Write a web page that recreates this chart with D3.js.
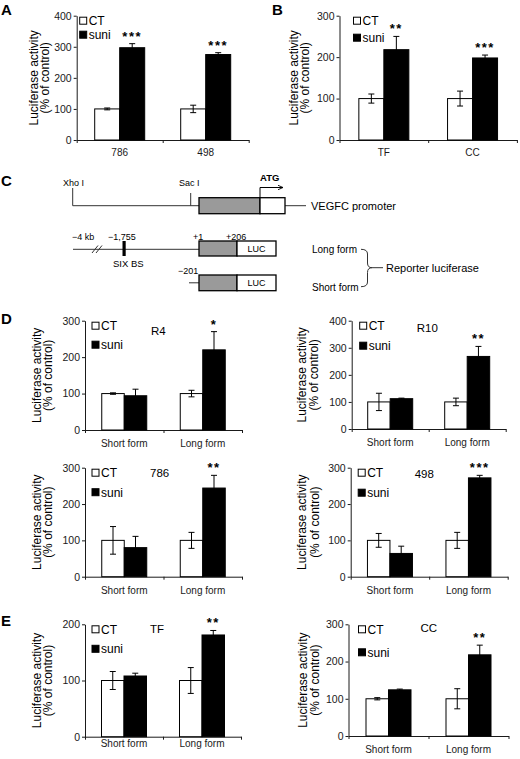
<!DOCTYPE html>
<html>
<head>
<meta charset="utf-8">
<script src="https://cdn.jsdelivr.net/npm/d3@7"></script>
<style>
body { margin: 0; background: #fff; }
svg { display: block; font-family: "Liberation Sans", Arial, sans-serif; }
</style>
</head>
<body>
<div id="fig"></div>
<script>
const series = ["CT", "suni"];
const forms = ["Short form", "Long form"];

// panel A
const cellsA = ["786", "498"];
const ctA = [100, 100];
const ctErrA = [3, 12];
const suniA = [297, 275];
const suniErrA = [13, 6];
const starsA = ["***", "***"];

// panel B
const cellsB = ["TF", "CC"];
const ctB = [100, 100];
const ctErrB = [11, 18];
const suniB = [218, 198];
const suniErrB = [32, 7];
const starsB = ["**", "***"];

// panel D
const ctR4 = [100, 100], ctErrR4 = [2, 9], suniR4 = [94, 220], suniErrR4 = [18, 50];
const ctR10 = [100, 100], ctErrR10 = [32, 14], suniR10 = [112, 268], suniErrR10 = [2, 37];
const ct786 = [100, 100], ctErr786 = [38, 22], suni786 = [80, 244], suniErr786 = [31, 35];
const ct498 = [100, 100], ctErr498 = [19, 22], suni498 = [64, 272], suniErr498 = [20, 7];

// panel E
const ctTF = [100, 100], ctErrTF = [16, 23], suniTF = [108, 181], suniErrTF = [5, 8];
const ctCC = [100, 100], ctErrCC = [3, 27], suniCC = [124, 218], suniErrCC = [2, 26];

const starsR4 = ["", "*"];
const starsR10 = ["", "**"];
const stars786 = ["", "**"];
const stars498 = ["", "***"];
const starsTF = ["", "**"];
const starsCC = ["", "**"];

const ticks200 = [0, 100, 200];
const ticks300 = [0, 100, 200, 300];
const ticks400 = [0, 100, 200, 300, 400];

const chart = {};
chart.width = 520;
chart.height = 759;
chart.ink = "#1a1a1a";

const svg = d3.select("#fig").append("svg")
    .attr("width", chart.width)
    .attr("height", chart.height);

/**
 * Grouped bar panel with CT / suni bars and error bars.
 */
chart.bars = function(p) {
    const g = svg.append("g");
    const n = p.cats.length;
    const right = p.left + p.band * n;

    const y = d3.scaleLinear().domain([0, d3.max(p.ticks)]).range([p.bottom, p.top]);
    const x0 = d3.scaleBand().domain(p.cats).range([p.left, right]);
    const x1 = d3.scaleBand().domain(series).range([-p.barW, p.barW]);
    const xEdge = d3.scaleLinear().domain([0, n]).range([p.left, right]);

    const rows = p.cats.map((c, i) => ({
        cat: c,
        star: p.stars[i],
        vals: [
            { s: "CT", v: p.ct[i], e: p.ctErr[i] },
            { s: "suni", v: p.suni[i], e: p.suniErr[i] }
        ]
    }));
    const flat = rows.flatMap(r => r.vals.map(d => Object.assign({ cat: r.cat }, d)));
    const cx = d => x0(d.cat) + x0.bandwidth() / 2 + x1(d.s);

    // axes
    g.append("g")
        .attr("transform", `translate(${p.left},0)`)
        .call(d3.axisLeft(y).tickValues(p.ticks).tickSize(3).tickSizeOuter(0).tickPadding(2))
        .call(a => a.selectAll("path,line").attr("stroke", chart.ink))
        .call(a => a.selectAll("text").attr("fill", chart.ink)
            .style("font-size", "10.5px").style("font-family", "inherit"));

    g.append("g")
        .attr("transform", `translate(0,${p.bottom})`)
        .call(d3.axisBottom(xEdge).tickValues(d3.range(n + 1)).tickSize(3).tickSizeOuter(0).tickFormat(""))
        .call(a => a.selectAll("path,line").attr("stroke", chart.ink));

    g.append("g")
        .attr("transform", `translate(0,${p.bottom})`)
        .call(d3.axisBottom(x0).tickSize(0).tickPadding(p.catDy))
        .call(a => a.select(".domain").remove())
        .call(a => a.selectAll("text").attr("fill", chart.ink)
            .style("font-size", "10px").style("font-family", "inherit"));

    // bars
    g.selectAll(".bar")
        .data(flat)
        .enter()
        .append("rect")
            .attr("x", d => cx(d))
            .attr("y", d => y(d.v))
            .attr("width", x1.bandwidth())
            .attr("height", d => p.bottom - y(d.v))
            .attr("fill", d => d.s === "CT" ? "#fff" : "#000")
            .attr("stroke", "#000")
            .attr("stroke-width", 1);

    // error bars
    const eb = g.selectAll(".err").data(flat).enter().append("g")
        .attr("stroke", "#000").attr("stroke-width", 1);
    const mid = d => cx(d) + x1.bandwidth() / 2;
    eb.append("line")
        .attr("x1", mid).attr("x2", mid)
        .attr("y1", d => y(d.v - d.e)).attr("y2", d => y(d.v + d.e));
    eb.append("line")
        .attr("x1", d => mid(d) - 3).attr("x2", d => mid(d) + 3)
        .attr("y1", d => y(d.v + d.e)).attr("y2", d => y(d.v + d.e));
    eb.append("line")
        .attr("x1", d => mid(d) - 3).attr("x2", d => mid(d) + 3)
        .attr("y1", d => y(d.v - d.e)).attr("y2", d => y(d.v - d.e));

    // significance stars
    g.selectAll(".star")
        .data(rows.filter(r => r.star))
        .enter()
        .append("text")
            .attr("x", r => mid(Object.assign({ cat: r.cat }, r.vals[1])))
            .attr("y", r => y(r.vals[1].v + r.vals[1].e) - 3)
            .attr("text-anchor", "middle")
            .style("font-size", "13px")
            .style("font-weight", "bold")
            .style("letter-spacing", "1.5px")
            .text(r => r.star);

    // legend
    const lg = g.append("g").attr("transform", `translate(${p.left + p.legendDx},${p.top + 5})`);
    series.forEach((s, i) => {
        const row = lg.append("g").attr("transform", `translate(0,${i * p.legendGap})`);
        row.append("rect")
            .attr("x", 0).attr("y", -3.5).attr("width", 7).attr("height", 7)
            .attr("fill", s === "CT" ? "#fff" : "#000")
            .attr("stroke", "#000").attr("stroke-width", 1);
        row.append("text")
            .attr("x", 9).attr("y", 0).attr("dy", "0.36em")
            .style("font-size", "12px")
            .text(s);
    });

    if (p.title) {
        g.append("text")
            .attr("x", p.left + p.titleDx)
            .attr("y", p.top + p.titleDy)
            .style("font-size", "11.5px")
            .text(p.title);
    }

    // y label
    const yc = (p.top + p.bottom) / 2;
    ["Luciferase activity", "(% of control)"].forEach((t, i) => {
        g.append("text")
            .attr("transform", `translate(${p.left - p.labelDx[i]},${yc}) rotate(-90)`)
            .attr("text-anchor", "middle")
            .attr("dy", "0.35em")
            .style("font-size", "12px")
            .text(t);
    });
};

// panel letters
[["A", 1, 15], ["B", 272, 15], ["C", 1, 186], ["D", 1, 324], ["E", 1, 626]].forEach(([t, x, yy]) => {
    svg.append("text").attr("x", x).attr("y", yy)
        .style("font-size", "15px").style("font-weight", "bold").text(t);
});

chart.bars({ cats: cellsA, ct: ctA, ctErr: ctErrA, suni: suniA, suniErr: suniErrA, stars: starsA,
    ticks: ticks400, left: 76.7, band: 86, top: 15.7, bottom: 140, barW: 25,
    legendDx: 3, legendGap: 14, labelDx: [43, 32], catDy: 9 });
chart.bars({ cats: cellsB, ct: ctB, ctErr: ctErrB, suni: suniB, suniErr: suniErrB, stars: starsB,
    ticks: ticks300, left: 339.5, band: 88.7, top: 15.7, bottom: 140, barW: 25,
    legendDx: 14, legendGap: 17, labelDx: [46, 35], catDy: 9 });

chart.bars({ cats: forms, ct: ctR4, ctErr: ctErrR4, suni: suniR4, suniErr: suniErrR4, stars: starsR4,
    ticks: ticks300, left: 85, band: 78.5, top: 320.7, bottom: 430, barW: 22.5,
    legendDx: 7, legendGap: 19, labelDx: [48, 37], catDy: 10, title: "R4", titleDx: 66, titleDy: 14 });
chart.bars({ cats: forms, ct: ctR10, ctErr: ctErrR10, suni: suniR10, suniErr: suniErrR10, stars: starsR10,
    ticks: ticks400, left: 351.7, band: 77, top: 320.7, bottom: 429, barW: 22.5,
    legendDx: 8, legendGap: 20, labelDx: [50, 38], catDy: 10, title: "R10", titleDx: 65, titleDy: 11 });
chart.bars({ cats: forms, ct: ct786, ctErr: ctErr786, suni: suni786, suniErr: suniErr786, stars: stars786,
    ticks: ticks300, left: 85, band: 78.5, top: 467.7, bottom: 576.7, barW: 22.5,
    legendDx: 7, legendGap: 19.5, labelDx: [48, 37], catDy: 10, title: "786", titleDx: 65, titleDy: 9.5 });
chart.bars({ cats: forms, ct: ct498, ctErr: ctErr498, suni: suni498, suniErr: suniErr498, stars: stars498,
    ticks: ticks300, left: 350.7, band: 78.5, top: 467.7, bottom: 576.7, barW: 22.5,
    legendDx: 7.5, legendGap: 20, labelDx: [49, 36], catDy: 10, title: "498", titleDx: 64, titleDy: 10 });

chart.bars({ cats: forms, ct: ctTF, ctErr: ctErrTF, suni: suniTF, suniErr: suniErrTF, stars: starsTF,
    ticks: ticks200, left: 85, band: 78, top: 624.3, bottom: 736.7, barW: 22.5,
    legendDx: 7, legendGap: 19.5, labelDx: [48, 37], catDy: 3, title: "TF", titleDx: 65, titleDy: 9 });
chart.bars({ cats: forms, ct: ctCC, ctErr: ctErrCC, suni: suniCC, suniErr: suniErrCC, stars: starsCC,
    ticks: ticks300, left: 348.5, band: 80, top: 624.3, bottom: 736, barW: 22.5,
    legendDx: 10, legendGap: 23, labelDx: [46, 34], catDy: 10, title: "CC", titleDx: 72, titleDy: 8 });

// panel C: promoter / reporter schematic
chart.schematic = function() {
    const g = svg.append("g").attr("stroke-linecap", "butt");
    const thin = { stroke: "#333", "stroke-width": 1, fill: "none" };
    const box = (x, yy, w, h, fill) => g.append("rect")
        .attr("x", x).attr("y", yy).attr("width", w).attr("height", h)
        .attr("fill", fill).attr("stroke", "#000").attr("stroke-width", 1.3);
    const path = (d, st) => {
        const el = g.append("path").attr("d", d);
        Object.entries(st || thin).forEach(([k, v]) => el.attr(k, v));
        return el;
    };
    const txt = (t, x, yy, size, extra) => {
        const el = g.append("text").attr("x", x).attr("y", yy).style("font-size", size + "px").text(t);
        if (extra) extra(el);
        return el;
    };

    // VEGFC promoter
    path("M72.7,188 V205.7 H199");
    path("M190.7,193 V205.7");
    path("M285,205.7 H306");
    box(199, 197.7, 61, 16, "#9a9a9a");
    box(260, 197.7, 25, 16, "#fff");
    txt("Xho I", 63, 186, 9);
    txt("Sac I", 179, 186, 9);
    txt("VEGFC promoter", 311, 209.5, 11);
    txt("ATG", 260, 181, 9.5, el => el.style("font-weight", "bold"));
    svg.append("defs").append("marker")
        .attr("id", "arr").attr("viewBox", "0 0 10 10").attr("refX", 9).attr("refY", 5)
        .attr("markerWidth", 6).attr("markerHeight", 6).attr("orient", "auto")
        .append("path").attr("d", "M0,1 L9,5 L0,9").attr("fill", "none").attr("stroke", "#000").attr("stroke-width", 1.5);
    path("M260,197.7 V187.5 H283", { stroke: "#000", "stroke-width": 1, fill: "none" }).attr("marker-end", "url(#arr)");

    // long form
    path("M73,249.3 H199");
    path("M92,253 L98,245.5 M96,253 L102,245.5", { stroke: "#333", "stroke-width": 1, fill: "none" });
    g.append("rect").attr("x", 122.5).attr("y", 241).attr("width", 3.2).attr("height", 15).attr("fill", "#000");
    box(199, 241, 38, 15, "#9a9a9a");
    box(237, 241, 39, 15, "#fff");
    txt("\u22124 kb", 72, 239.5, 9);
    txt("\u22121,755", 108, 239.5, 9);
    txt("+1", 193, 239.5, 9);
    txt("+206", 226, 239.5, 9);
    txt("SIX BS", 113, 266.5, 9.5);
    txt("LUC", 256.5, 251.5, 9, el => el.attr("text-anchor", "middle"));

    // short form
    txt("\u2212201", 178, 273.5, 9);
    path("M189,282.8 H199");
    box(199, 275, 38, 15.7, "#9a9a9a");
    box(237, 275, 39, 15.7, "#fff");
    txt("LUC", 256.5, 286, 9, el => el.attr("text-anchor", "middle"));

    // brace
    txt("Long form", 312, 252.8, 10);
    txt("Short form", 312, 290.5, 10);
    path("M361,249.3 Q367.5,249.3 367.5,254 V263 Q367.5,267.7 372,267.7 Q367.5,267.7 367.5,272.5 V282 Q367.5,286.7 361,286.7 M372,267.7 H383");
    txt("Reporter luciferase", 386, 271.5, 11);
};
chart.schematic();
</script>
</body>
</html>
